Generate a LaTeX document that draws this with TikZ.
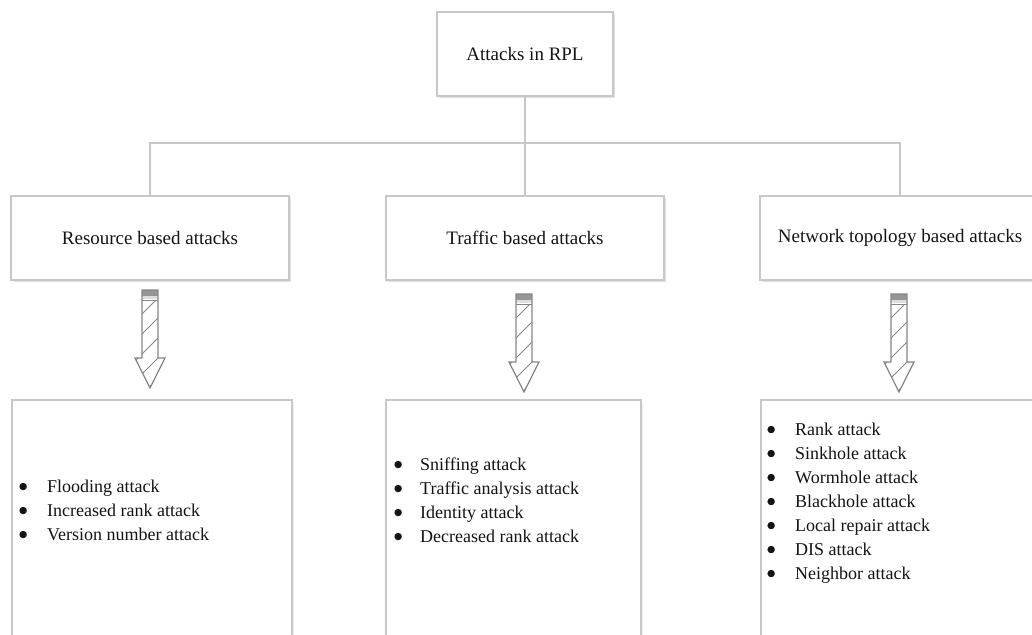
\documentclass[tikz,border=0pt]{standalone}
\usepackage{fontspec}
\setmainfont{Liberation Serif}
\newfontfamily\bulletfont{DejaVu Sans}
\usetikzlibrary{shadows}
\definecolor{boxgray}{RGB}{200,200,200}
\definecolor{arrowgray}{RGB}{135,135,135}
\definecolor{capgray}{RGB}{150,150,150}
\definecolor{inkgray}{RGB}{20,20,20}

% hatched block arrow pointing down: #1 = centre x, #2 = top y
\newcommand{\hatcharrow}[2]{%
  \begin{scope}
    \clip (#1-8,#2) -- (#1+8,#2) -- (#1+8,#2+68) -- (#1+15,#2+68)
          -- (#1,#2+98) -- (#1-15,#2+68) -- (#1-8,#2+68) -- cycle;
    \foreach \k in {0,...,4}
      \draw[arrowgray, line width=0.9pt] (#1-20,#2+36+\k*20) -- ++(40,-40);
  \end{scope}
  \fill[white] (#1-8,#2) rectangle (#1+8,#2+11);
  \fill[capgray] (#1-8,#2) rectangle (#1+8,#2+6);
  \fill[gray!25] (#1-8,#2+6) rectangle (#1+8,#2+9);
  \draw[arrowgray, line width=1pt] (#1-8,#2+10) -- (#1+8,#2+10);
  \draw[arrowgray, line width=1.2pt, line join=miter]
    (#1-8,#2) -- (#1+8,#2) -- (#1+8,#2+68) -- (#1+15,#2+68)
    -- (#1,#2+98) -- (#1-15,#2+68) -- (#1-8,#2+68) -- cycle;
}
% list bullet
\newcommand{\itembullet}{\raisebox{3.2pt}{\bulletfont\fontsize{9.5}{9.5}\selectfont ●}}

\begin{document}
\begin{tikzpicture}[x=1pt, y=-1pt,
  box/.style={draw=boxgray, line width=2.4pt, fill=white, inner sep=0pt,
    text=inkgray, font=\fontsize{19}{23}\selectfont,
    drop shadow={opacity=0.12, shadow xshift=1.5pt, shadow yshift=-2pt}},
  headbox/.style={box, minimum width=278pt, minimum height=84pt},
  listbox/.style={box, minimum height=270pt, anchor=north west},
  listtext/.style={anchor=west, inner sep=0pt, text=inkgray,
    font=\fontsize{18}{24}\selectfont},
  link/.style={draw=boxgray, line width=2.4pt}]

\useasboundingbox (0,0) rectangle (1032,634);
\clip (0,0) rectangle (1032,634);
\fill[white] (0,0) rectangle (1032,634);

% tree nodes and connectors
\coordinate (bus) at (525,143);
\node[box, minimum width=176pt, minimum height=84pt] (root) at (525,54) {Attacks in RPL};
\node[headbox] (res) at (150,238) {Resource based attacks};
\node[headbox] (traf) at (525,238) {Traffic based attacks};
\node[headbox, minimum width=280pt] (net) at (900,238) {Network topology based attacks};

\draw[link] (root.south) -- (traf.north);
\draw[link] (res.north) -- (res.north |- bus) -- (net.north |- bus) -- (net.north);
% redraw boxes over the connector ends
\node[box, minimum width=176pt, minimum height=84pt] at (root) {Attacks in RPL};
\node[headbox] at (res) {Resource based attacks};
\node[headbox] at (traf) {Traffic based attacks};
\node[headbox, minimum width=280pt] at (net) {Network topology based attacks};

% block arrows
\hatcharrow{150}{290}
\hatcharrow{524}{294}
\hatcharrow{899}{294}

% lists of attacks
\node[listbox, minimum width=280pt] (resl) at (11,399) {};
\node[listbox, minimum width=255pt] (trafl) at (385,399) {};
\node[listbox, minimum width=290pt] (netl) at (760,399) {};

\node[listtext] (resitems) at (19,512) {%
  \begin{tabular}{@{}p{28pt}@{}l@{}}
  \itembullet & Flooding attack\\
  \itembullet & Increased rank attack\\
  \itembullet & Version number attack
  \end{tabular}};
\node[listtext] (trafitems) at (394,502) {%
  \begin{tabular}{@{}p{26pt}@{}l@{}}
  \itembullet & Sniffing attack\\
  \itembullet & Traffic analysis attack\\
  \itembullet & Identity attack\\
  \itembullet & Decreased rank attack
  \end{tabular}};
\node[listtext] (netitems) at (767,503) {%
  \begin{tabular}{@{}p{28pt}@{}l@{}}
  \itembullet & Rank attack\\
  \itembullet & Sinkhole attack\\
  \itembullet & Wormhole attack\\
  \itembullet & Blackhole attack\\
  \itembullet & Local repair attack\\
  \itembullet & DIS attack\\
  \itembullet & Neighbor attack
  \end{tabular}};
\end{tikzpicture}
\end{document}
